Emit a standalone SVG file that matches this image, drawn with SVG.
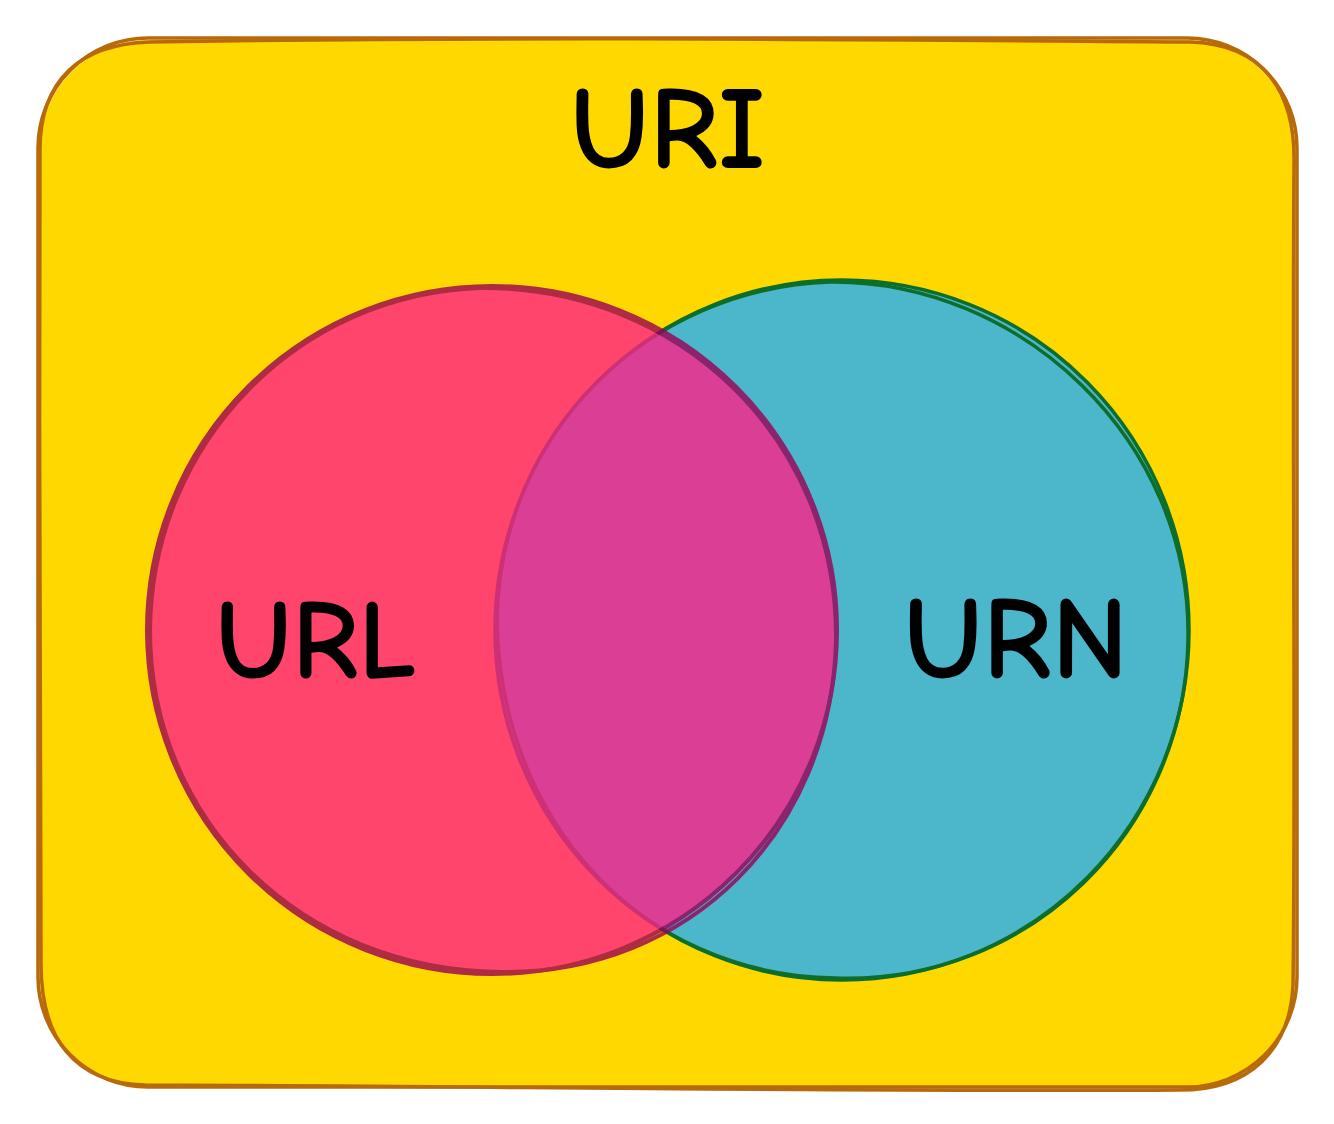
<svg xmlns="http://www.w3.org/2000/svg" width="1334" height="1124" viewBox="0 0 1334 1124">
  <style>
    .lbl { font-family: "Comic Sans MS", "Comic Neue", "Liberation Sans", sans-serif; font-weight: bold; fill: #000; text-anchor: middle; }
    .box { fill: none; stroke: #b8690a; stroke-width: 3.5; stroke-linecap: round; }
    .rstroke { fill: none; stroke: #9a0055; stroke-width: 4; stroke-linecap: round; }
    .bstroke { fill: none; stroke: #0c6e2a; stroke-width: 3.5; stroke-linecap: round; }
  </style>
  <rect width="1334" height="1124" fill="#ffffff"/>
  <g id="uri">
    <rect x="40" y="40" width="1255" height="1046" rx="108" ry="108" fill="#ffd800"/>
    <rect class="box" x="38" y="38" width="1259" height="1049" rx="110" ry="110"/>
    <path class="box" d="M150 42 C520 36 900 40 1190 42 C1262 44 1296 90 1294 165 C1292 440 1296 760 1293 985 C1290 1050 1250 1090 1180 1090 C860 1092 460 1086 145 1085 C75 1083 40 1040 41 960 C42 700 38 420 40 150 C40 80 80 44 150 42 Z"/>
    <text class="lbl" x="668" y="168" font-size="118">URI</text>
  </g>
  <g id="urn">
    <ellipse cx="842" cy="630" rx="347" ry="350" fill="#4cb6cb"/>
    <ellipse class="bstroke" cx="842" cy="630" rx="347" ry="350"/>
    <path class="bstroke" d="M830 282 C1020 280 1192 440 1188 640 C1185 830 1030 985 835 978 C640 975 500 820 497 620 C500 430 650 288 830 282"/>
    <text class="lbl" x="1016" y="678" font-size="118">URN</text>
  </g>
  <g id="url" opacity="0.8">
    <ellipse cx="492" cy="630" rx="345" ry="344" fill="#ff2188"/>
    <ellipse class="rstroke" cx="492" cy="630" rx="345" ry="344"/>
    <path class="rstroke" d="M480 288 C680 286 838 440 836 640 C832 830 690 975 500 972 C300 970 150 820 150 630 C152 440 300 294 480 288"/>
  </g>
  <g id="url-label">
    <text class="lbl" x="316" y="678" font-size="114">URL</text>
  </g>
  <g id="connectors"/>
</svg>
